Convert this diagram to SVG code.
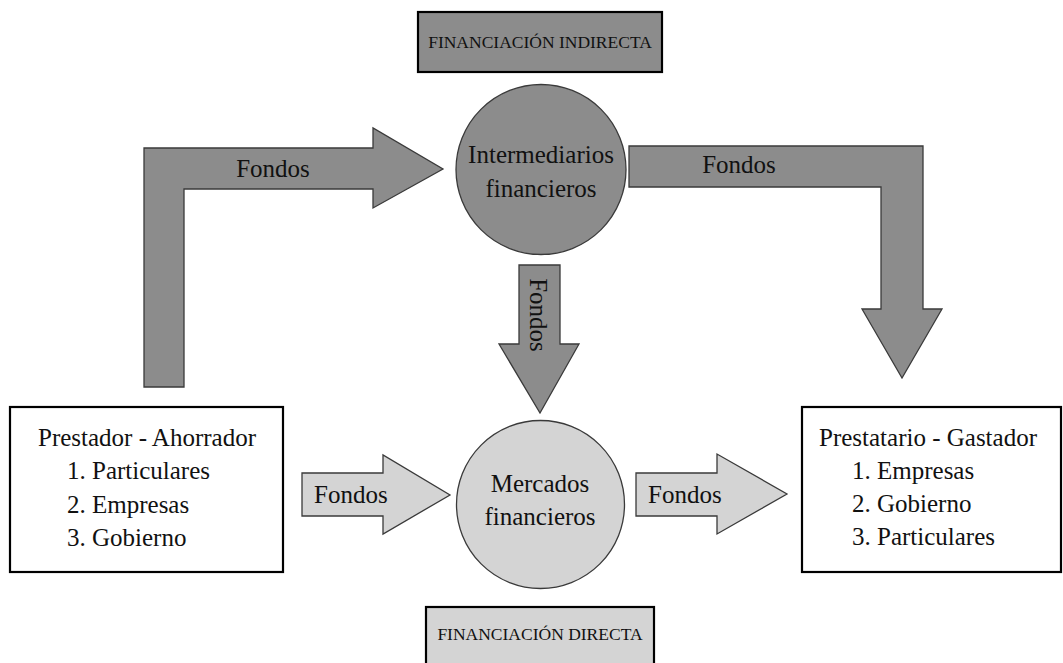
<svg xmlns="http://www.w3.org/2000/svg" width="1063" height="663" viewBox="0 0 1063 663">
<style>
text{font-family:"Liberation Serif","Times New Roman",serif;fill:#111;}
.t{font-size:25px;}
.lbl{font-size:17.5px;text-anchor:middle;}
.c{text-anchor:middle;}
.dark{fill:#8c8c8c;stroke:#3a3a3a;stroke-width:1.3;}
.light{fill:#d4d4d4;stroke:#3a3a3a;stroke-width:1.3;}
.box{fill:#fff;stroke:#000;stroke-width:2.2;}
</style>
<rect width="1063" height="663" fill="#fff"/>
<g id="connectors">
  <g id="arrow-left-L">
    <polygon class="dark" points="144,387 144,148 373,148 373,128 443,169 373,208 373,189 184,189 184,387"/>
    <text class="t c" x="273" y="177">Fondos</text>
  </g>
  <g id="arrow-right-L">
    <polygon class="dark" points="629,146 923,146 923,309 942,309 902,378 862,309 881,309 881,187 629,187"/>
    <text class="t c" x="739" y="173">Fondos</text>
  </g>
  <g id="arrow-down">
    <polygon class="dark" points="519,265 560,265 560,344 579,344 540,413 499,344 519,344"/>
    <text class="t c" transform="translate(530,315) rotate(90)">Fondos</text>
  </g>
  <g id="arrow-small-left">
    <polygon class="light" points="302,473 383,473 383,455 450,495 383,534 383,516 302,516"/>
    <text class="t" x="314" y="503">Fondos</text>
  </g>
  <g id="arrow-small-right">
    <polygon class="light" points="636,473 717,473 717,454 787,494 717,534 717,516 636,516"/>
    <text class="t" x="648" y="503">Fondos</text>
  </g>
</g>
<g id="label-indirecta">
  <rect x="418" y="12" width="244" height="60" fill="#8c8c8c" stroke="#000" stroke-width="2.2"/>
  <text class="lbl" x="540" y="48">FINANCIACIÓN INDIRECTA</text>
</g>
<g id="label-directa">
  <rect x="426" y="607" width="228" height="62" fill="#d4d4d4" stroke="#000" stroke-width="2.2"/>
  <text class="lbl" x="540" y="640">FINANCIACIÓN DIRECTA</text>
</g>
<g id="node-intermediarios">
  <circle class="dark" cx="541" cy="169.5" r="85"/>
  <text class="t c" x="541" y="163">Intermediarios</text>
  <text class="t c" x="541" y="197">financieros</text>
</g>
<g id="node-mercados">
  <circle class="light" cx="540.5" cy="504.5" r="84"/>
  <text class="t c" x="540" y="492">Mercados</text>
  <text class="t c" x="540" y="525">financieros</text>
</g>
<g id="node-prestador">
  <rect class="box" x="10" y="407" width="273" height="165"/>
  <text class="t c" x="147" y="446">Prestador - Ahorrador</text>
  <text class="t" x="67" y="479">1. Particulares</text>
  <text class="t" x="67" y="513">2. Empresas</text>
  <text class="t" x="67" y="546">3. Gobierno</text>
</g>
<g id="node-prestatario">
  <rect class="box" x="802" y="407" width="259" height="165"/>
  <text class="t c" x="928" y="446">Prestatario - Gastador</text>
  <text class="t" x="852" y="479">1. Empresas</text>
  <text class="t" x="852" y="512">2. Gobierno</text>
  <text class="t" x="852" y="545">3. Particulares</text>
</g>
</svg>
